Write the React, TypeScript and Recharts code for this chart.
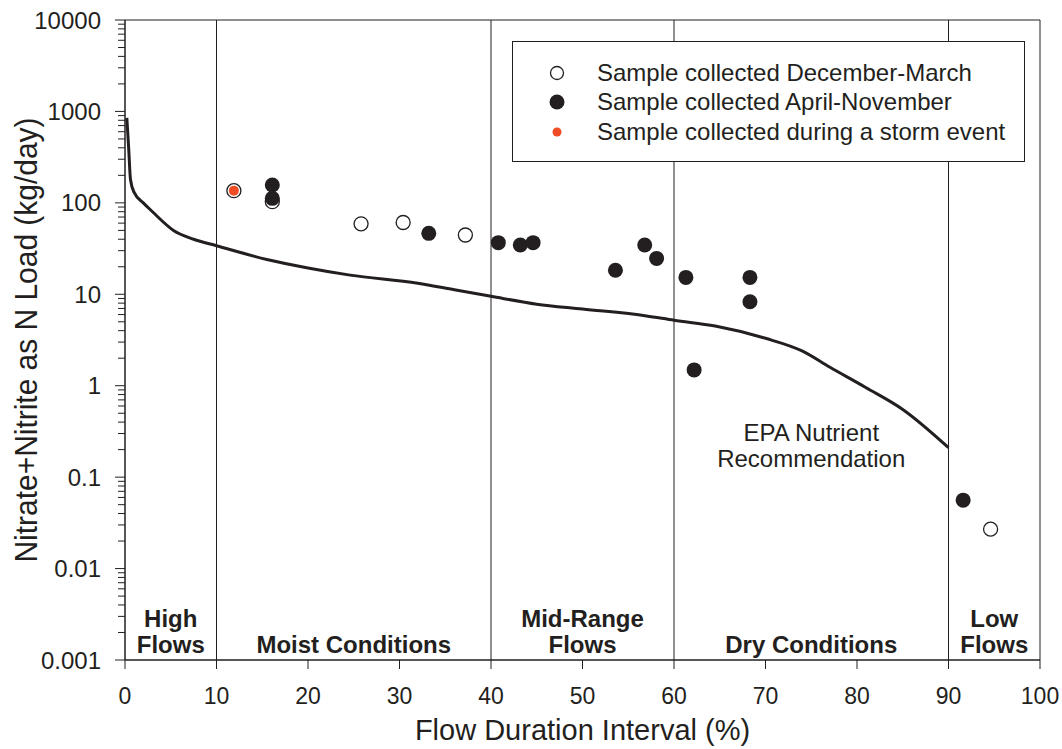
import React from 'react'
import {
  ComposedChart, Line, Scatter, XAxis, YAxis, ReferenceLine, ReferenceArea,
  ReferenceDot, Legend,
} from 'recharts'

const INK = '#231f20'
const STORM_RED = '#ef4b24'
const FONT = '"Liberation Sans", Arial, Helvetica, sans-serif'

// EPA nutrient recommendation curve: flow duration interval (%) vs load (kg/day)
const epaCurve = [
  { x: 0.2, y: 850 }, { x: 0.4, y: 400 }, { x: 0.6, y: 180 }, { x: 1, y: 130 },
  { x: 2, y: 100 }, { x: 3, y: 80 }, { x: 5.3, y: 50 }, { x: 7.5, y: 40 },
  { x: 10, y: 34 }, { x: 15.5, y: 24 }, { x: 20, y: 19.4 }, { x: 24.6, y: 16.2 },
  { x: 32, y: 13.2 }, { x: 36, y: 11.2 }, { x: 40, y: 9.5 }, { x: 45, y: 7.8 },
  { x: 50, y: 6.9 }, { x: 57, y: 5.8 }, { x: 60, y: 5.2 }, { x: 64.5, y: 4.5 },
  { x: 70, y: 3.3 }, { x: 74, y: 2.4 }, { x: 77, y: 1.6 }, { x: 81, y: 0.95 },
  { x: 85, y: 0.55 }, { x: 90, y: 0.21 },
]

// samples collected December-March (open circles)
const winterSamples = [
  { x: 11.9, y: 136 }, { x: 16.1, y: 103 }, { x: 25.8, y: 59 },
  { x: 30.4, y: 61 }, { x: 37.2, y: 44.5 }, { x: 94.6, y: 0.027 },
]

// samples collected April-November (filled circles)
const summerSamples = [
  { x: 16.1, y: 157 }, { x: 16.1, y: 112 }, { x: 33.2, y: 46.4 },
  { x: 40.8, y: 36.7 }, { x: 43.2, y: 34.6 }, { x: 44.6, y: 36.7 },
  { x: 53.6, y: 18.3 }, { x: 56.8, y: 34.6 }, { x: 58.1, y: 24.7 },
  { x: 61.3, y: 15.3 }, { x: 62.2, y: 1.49 }, { x: 68.3, y: 15.3 },
  { x: 68.3, y: 8.3 }, { x: 91.6, y: 0.056 },
]

// storm event sample
const stormSamples = [{ x: 11.9, y: 136 }]

const zoneBounds = [10, 40, 60, 90]
const zoneLabels = [
  { x: 5, y: 0.001, lines: ['High', 'Flows'] },
  { x: 25, y: 0.001, lines: ['Moist Conditions'] },
  { x: 50, y: 0.001, lines: ['Mid-Range', 'Flows'] },
  { x: 75, y: 0.001, lines: ['Dry Conditions'] },
  { x: 95, y: 0.001, lines: ['Low', 'Flows'] },
]

const xTicks = [0, 10, 20, 30, 40, 50, 60, 70, 80, 90, 100]
const yMajorTicks = [0.001, 0.01, 0.1, 1, 10, 100, 1000, 10000]
const yTickLabels = ['0.001', '0.01', '0.1', '1', '10', '100', '1000', '10000']
const yTicks = yMajorTicks.flatMap((d, i) =>
  i === yMajorTicks.length - 1 ? [d] : [1, 2, 3, 4, 5, 6, 7, 8, 9].map((k) => +(d * k).toPrecision(3))
)

const legendItems = [
  { label: 'Sample collected December-March', kind: 'open' },
  { label: 'Sample collected April-November', kind: 'filled' },
  { label: 'Sample collected during a storm event', kind: 'storm' },
]

function YTick(props: any) {
  const { x, y, payload } = props
  const idx = yMajorTicks.findIndex((m) => Math.abs(m - payload.value) / m < 1e-6)
  const major = idx >= 0
  return (
    <g>
      <line x1={x - (major ? 10 : 7)} x2={x} y1={y} y2={y} stroke={INK} strokeWidth={1} />
      {major && (
        <text x={x - 24} y={y} dy="0.36em" textAnchor="end" fontSize={24} fontFamily={FONT} fill={INK}>
          {yTickLabels[idx]}
        </text>
      )}
    </g>
  )
}

function XTick(props: any) {
  const { x, y, payload } = props
  return (
    <g>
      <line x1={x} x2={x} y1={y} y2={y + 9} stroke={INK} strokeWidth={1} />
      <text x={x} y={y + 44} textAnchor="middle" fontSize={23} fontFamily={FONT} fill={INK}>
        {payload.value}
      </text>
    </g>
  )
}

const openDot = (p: any) => (
  <circle cx={p.cx} cy={p.cy} r={7} fill="#fff" stroke={INK} strokeWidth={1.3} />
)
const filledDot = (p: any) => <circle cx={p.cx} cy={p.cy} r={7.5} fill={INK} />
const stormDot = (p: any) => <circle cx={p.cx} cy={p.cy} r={5} fill={STORM_RED} />

const zoneLabel = (p: any) => {
  const lines: string[] = p.payload.lines
  return (
    <text textAnchor="middle" fontSize={24} fontWeight="bold" fontFamily={FONT} fill={INK}>
      {lines.map((l, i) => (
        <tspan key={l} x={p.cx} y={p.cy - 7 - (lines.length - 1 - i) * 26}>{l}</tspan>
      ))}
    </text>
  )
}

const epaLabel = (p: any) => (
  <text textAnchor="middle" fontSize={24} fontFamily={FONT} fill={INK}>
    <tspan x={p.cx} y={p.cy - 5}>EPA Nutrient</tspan>
    <tspan x={p.cx} y={p.cy + 21}>Recommendation</tspan>
  </text>
)

const renderLegend = () => (
  <div
    style={{
      boxSizing: 'border-box', width: 513, height: 121, border: `1px solid ${INK}`,
      background: '#fff', padding: '16px 0 0 35px', fontFamily: FONT, fontSize: 24, color: INK,
    }}
  >
    {legendItems.map((item) => (
      <div key={item.label} style={{ display: 'flex', alignItems: 'center', height: 29.5 }}>
        <svg width={18} height={18}>
          {item.kind === 'open' && <circle cx={9} cy={9} r={6.5} fill="#fff" stroke={INK} strokeWidth={1.3} />}
          {item.kind === 'filled' && <circle cx={9} cy={9} r={7.5} fill={INK} />}
          {item.kind === 'storm' && <circle cx={9} cy={9} r={4.5} fill={STORM_RED} />}
        </svg>
        <span style={{ marginLeft: 31, whiteSpace: 'nowrap' }}>{item.label}</span>
      </div>
    ))}
  </div>
)

const XTitle = (p: any) => {
  const vb = p.viewBox
  return (
    <text x={vb.x + vb.width / 2} y={vb.y + 80} textAnchor="middle" fontSize={29} fontFamily={FONT} fill={INK}>
      Flow Duration Interval (%)
    </text>
  )
}

const YTitle = (p: any) => {
  const vb = p.viewBox
  const cx = 37
  const cy = vb.y + vb.height / 2
  return (
    <text
      x={cx} y={cy} transform={`rotate(-90 ${cx} ${cy})`} textAnchor="middle"
      fontSize={31} textLength={445} lengthAdjust="spacingAndGlyphs" fontFamily={FONT} fill={INK}
    >
      Nitrate+Nitrite as N Load (kg/day)
    </text>
  )
}

export default function App() {
  return (
    <div style={{ position: 'absolute', left: 0, top: 0, width: 1062, height: 749, background: '#fff' }}>
      <ComposedChart width={1062} height={749} margin={{ top: 20, right: 22, bottom: 0, left: 0 }}>
        <XAxis
          type="number" dataKey="x" domain={[0, 100]} ticks={xTicks} interval={0}
          height={89} tickSize={0} tickMargin={0} tickLine={false} tick={(p: any) => <XTick {...p} />}
          axisLine={{ stroke: INK }} label={<XTitle />}
        />
        <YAxis
          type="number" dataKey="y" scale="log" domain={[0.001, 10000]} allowDataOverflow
          ticks={yTicks} interval={0} width={125} tickSize={0} tickMargin={0} tickLine={false}
          tick={(p: any) => <YTick {...p} />} axisLine={{ stroke: INK }} label={<YTitle />}
        />
        <ReferenceArea x1={0} x2={100} y1={0.001} y2={10000} fill="none" stroke={INK} strokeWidth={1} />
        {zoneBounds.map((b) => (
          <ReferenceLine key={b} x={b} stroke={INK} strokeWidth={1} />
        ))}
        <Legend
          layout="vertical" align="center" verticalAlign="middle" content={renderLegend}
          wrapperStyle={{ left: 512, top: 41, width: 513, height: 121 }}
        />
        <Line
          data={epaCurve} dataKey="y" type="monotone" stroke={INK} strokeWidth={3}
          dot={false} isAnimationActive={false} legendType="none"
        />
        <Scatter data={winterSamples} dataKey="y" shape={openDot} isAnimationActive={false} />
        <Scatter data={summerSamples} dataKey="y" shape={filledDot} isAnimationActive={false} />
        <Scatter data={stormSamples} dataKey="y" shape={stormDot} isAnimationActive={false} />
        <Scatter data={zoneLabels} dataKey="y" shape={zoneLabel} isAnimationActive={false} />
        <ReferenceDot x={75} y={0.22} shape={epaLabel} />
      </ComposedChart>
    </div>
  )
}
